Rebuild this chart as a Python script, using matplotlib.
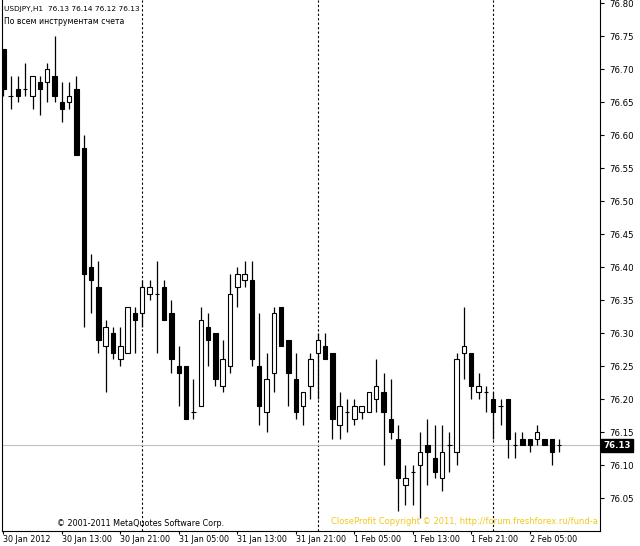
import matplotlib
matplotlib.use("Agg")
import matplotlib.pyplot as plt

# USDJPY H1 bars, 30 Jan 2012 05:00 .. 2 Feb 2012 09:00
opens = [76.73, 76.66, 76.67, 76.67, 76.66, 76.68, 76.68, 76.69, 76.65, 76.65,
         76.67, 76.58, 76.40, 76.37, 76.28, 76.30, 76.26, 76.27, 76.33, 76.33,
         76.36, 76.36, 76.37, 76.33, 76.25, 76.25, 76.18, 76.19, 76.31, 76.30,
         76.22, 76.25, 76.37, 76.38, 76.38, 76.25, 76.18, 76.24, 76.34, 76.29,
         76.23, 76.19, 76.22, 76.27, 76.28, 76.27, 76.16, 76.18, 76.17, 76.18,
         76.18, 76.20, 76.21, 76.17, 76.14, 76.07, 76.09, 76.10, 76.13, 76.11,
         76.08, 76.13, 76.12, 76.27, 76.27, 76.21, 76.21, 76.20, 76.19, 76.20,
         76.13, 76.14, 76.14, 76.14, 76.14, 76.14, 76.13]
highs = [76.73, 76.69, 76.69, 76.71, 76.69, 76.69, 76.71, 76.75, 76.68, 76.68,
         76.69, 76.60, 76.42, 76.41, 76.32, 76.31, 76.31, 76.34, 76.34, 76.38,
         76.38, 76.41, 76.38, 76.35, 76.28, 76.25, 76.23, 76.34, 76.33, 76.30,
         76.29, 76.39, 76.40, 76.41, 76.41, 76.33, 76.27, 76.34, 76.34, 76.29,
         76.27, 76.21, 76.27, 76.30, 76.30, 76.27, 76.21, 76.20, 76.20, 76.19,
         76.21, 76.26, 76.24, 76.23, 76.16, 76.10, 76.10, 76.15, 76.17, 76.16,
         76.16, 76.15, 76.27, 76.34, 76.27, 76.24, 76.22, 76.21, 76.20, 76.20,
         76.15, 76.15, 76.14, 76.16, 76.14, 76.14, 76.14]
lows = [76.66, 76.64, 76.65, 76.66, 76.64, 76.63, 76.65, 76.65, 76.62, 76.64,
        76.57, 76.31, 76.33, 76.27, 76.21, 76.26, 76.25, 76.27, 76.27, 76.31,
        76.35, 76.27, 76.32, 76.24, 76.19, 76.17, 76.17, 76.19, 76.25, 76.22,
        76.21, 76.24, 76.34, 76.37, 76.25, 76.16, 76.15, 76.21, 76.28, 76.19,
        76.17, 76.16, 76.20, 76.20, 76.26, 76.14, 76.14, 76.15, 76.16, 76.17,
        76.18, 76.18, 76.10, 76.14, 76.03, 76.04, 76.04, 76.02, 76.07, 76.08,
        76.06, 76.09, 76.10, 76.23, 76.20, 76.20, 76.18, 76.14, 76.16, 76.11,
        76.11, 76.13, 76.12, 76.13, 76.13, 76.10, 76.12]
closes = [76.67, 76.66, 76.66, 76.67, 76.69, 76.67, 76.70, 76.66, 76.64, 76.66,
          76.57, 76.39, 76.38, 76.29, 76.31, 76.27, 76.28, 76.34, 76.32, 76.37,
          76.37, 76.36, 76.32, 76.26, 76.24, 76.17, 76.18, 76.32, 76.29, 76.23,
          76.26, 76.36, 76.39, 76.39, 76.26, 76.19, 76.23, 76.33, 76.28, 76.24,
          76.18, 76.21, 76.26, 76.29, 76.26, 76.17, 76.19, 76.18, 76.19, 76.19,
          76.21, 76.22, 76.18, 76.15, 76.08, 76.08, 76.09, 76.12, 76.12, 76.09,
          76.12, 76.13, 76.26, 76.28, 76.22, 76.22, 76.21, 76.18, 76.19, 76.14,
          76.13, 76.13, 76.13, 76.15, 76.13, 76.12, 76.13]

date_ticks = [0, 8, 16, 24, 32, 40, 48, 56, 64, 72]
date_labels = ["30 Jan 2012", "30 Jan 13:00", "30 Jan 21:00", "31 Jan 05:00",
               "31 Jan 13:00", "31 Jan 21:00", "1 Feb 05:00", "1 Feb 13:00",
               "1 Feb 21:00", "2 Feb 05:00"]
day_breaks = [19, 43, 67]
price_ticks = [76.05, 76.10, 76.15, 76.20, 76.25, 76.30, 76.35, 76.40,
               76.45, 76.50, 76.55, 76.60, 76.65, 76.70, 76.75, 76.80]
last_price = 76.13

fs = 6.2
fig = plt.figure(figsize=(6.4, 5.46), dpi=100)
ax = fig.add_axes([2 / 640, 15 / 546, 598 / 640, 531 / 546])

# period separators
for d in day_breaks:
    ax.axvline(d, color='black', linestyle=(0, (2, 2)), lw=0.8, zorder=1)

# current price line
ax.axhline(last_price, color='#c0c0c0', lw=0.8, zorder=1)

# candles
xs = list(range(len(opens)))
ax.vlines(xs, lows, highs, color='black', lw=0.9, zorder=2)
for i in xs:
    o, c = opens[i], closes[i]
    face = 'white' if c > o else 'black'
    ax.bar(i, abs(c - o), bottom=min(o, c), width=0.6, color=face,
           edgecolor='black', linewidth=0.8, zorder=3)

ax.set_xlim(-0.18, 81.6)
ax.set_ylim(76.00, 76.805)

# axes styling
ax.spines['top'].set_visible(False)
for s in ['left', 'right', 'bottom']:
    ax.spines[s].set_linewidth(0.8)
ax.yaxis.tick_right()
ax.set_yticks(price_ticks)
ax.set_yticklabels([f"{p:.2f}" for p in price_ticks])
ax.set_xticks(date_ticks)
ax.set_xticklabels(date_labels, ha='left')
ax.tick_params(axis='x', labelsize=5.8, length=2, width=0.8, pad=1)
ax.tick_params(axis='y', labelsize=fs, length=3, width=0.8, pad=4)

# current price label on the scale
ax.text(1.006, last_price, f"{last_price:.2f}", transform=ax.get_yaxis_transform(),
        color='white', fontsize=fs, va='center', ha='left', fontweight='bold',
        bbox=dict(boxstyle='square,pad=0.25', fc='black', ec='black'), zorder=5)

# chart info and watermarks
fig.text(4 / 640, 1 - 9 / 546, "USDJPY,H1  76.13 76.14 76.12 76.13",
         fontsize=5.3, va='center', ha='left')
fig.text(4 / 640, 1 - 21 / 546, "По всем инструментам счета",
         fontsize=5.6, va='center', ha='left')
fig.text(57 / 640, 1 - 524 / 546, "© 2001-2011 MetaQuotes Software Corp.",
         fontsize=5.8, va='center', ha='left')
fig.text(598 / 640, 1 - 521 / 546,
         "CloseProfit Copyright © 2011, http://forum.freshforex.ru/fund-a",
         fontsize=6.0, va='center', ha='right', color='#f2c81e')

fig.savefig("out.png", dpi=100, facecolor='white')
